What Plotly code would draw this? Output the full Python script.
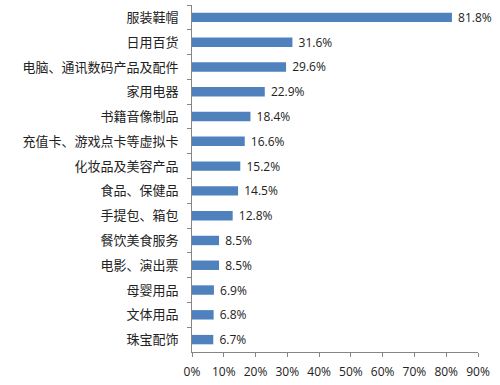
import plotly.graph_objects as go

categories = ["服装鞋帽", "日用百货", "电脑、通讯数码产品及配件", "家用电器", "书籍音像制品",
              "充值卡、游戏点卡等虚拟卡", "化妆品及美容产品", "食品、保健品", "手提包、箱包",
              "餐饮美食服务", "电影、演出票", "母婴用品", "文体用品", "珠宝配饰"]
values = [81.8, 31.6, 29.6, 22.9, 18.4, 16.6, 15.2, 14.5, 12.8, 8.5, 8.5, 6.9, 6.8, 6.7]
x_ticks = [0, 10, 20, 30, 40, 50, 60, 70, 80, 90]
x_tick_labels = ["0%", "10%", "20%", "30%", "40%", "50%", "60%", "70%", "80%", "90%"]

fig = go.Figure(go.Bar(
    y=categories, x=values, orientation="h",
    marker=dict(color="#4F81BD", line=dict(width=0)),
    text=[f"\u00a0{v:.1f}%" for v in values], textposition="outside", constraintext="none",
    textfont=dict(family="Open Sans, Liberation Sans", size=12, color="#222222"),
    cliponaxis=False,
))

fig.update_layout(
    width=500, height=385,
    margin=dict(l=192, r=22, t=5, b=33),
    paper_bgcolor="white", plot_bgcolor="white",
    bargap=0.62, showlegend=False,
    uniformtext=dict(minsize=12, mode="show"),
    xaxis=dict(range=[0, 90], tickvals=x_ticks, ticktext=x_tick_labels, showgrid=False, zeroline=False,
               showline=True, linecolor="#868686", linewidth=1, ticks="outside", ticklen=4,
               tickcolor="#868686", ticklabelstandoff=5,
               tickfont=dict(family="Open Sans, Liberation Sans", size=12, color="#222222")),
    yaxis=dict(autorange="reversed", showgrid=False, showline=True, linecolor="#868686", linewidth=1,
               ticks="outside", ticklen=4, tickcolor="#868686", tickson="boundaries",
               tickfont=dict(family="Noto Sans CJK SC", size=13, color="#222222"), ticklabelstandoff=10),
)
fig.write_html("out.html")
